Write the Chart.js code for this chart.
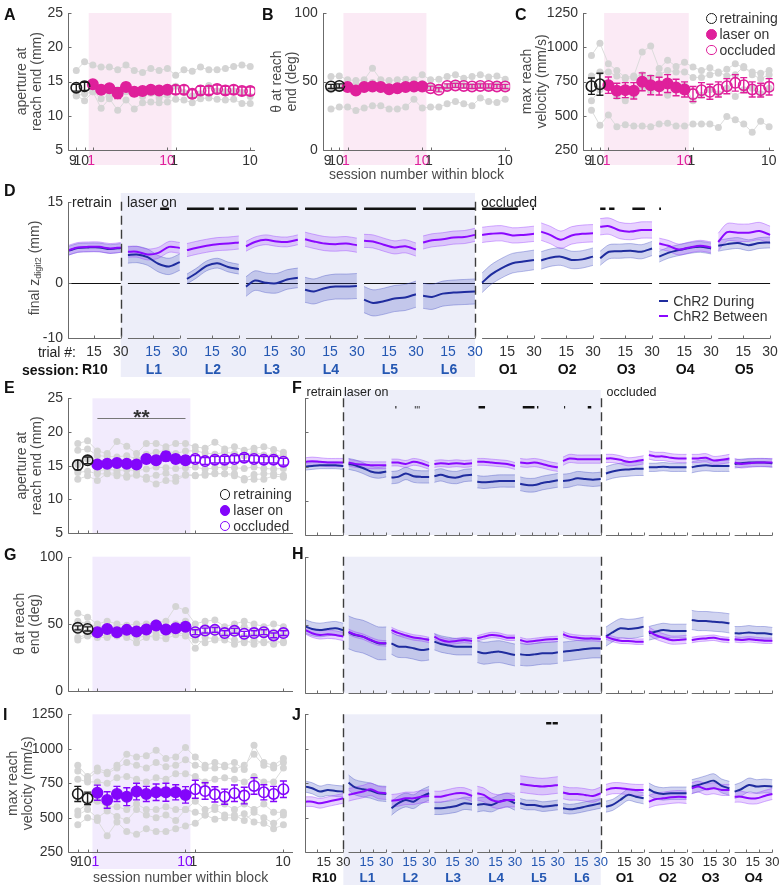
<!DOCTYPE html>
<html><head><meta charset="utf-8"><title>Figure</title>
<script src="https://cdn.jsdelivr.net/npm/chart.js@4.4.1/dist/chart.umd.min.js"></script>
<style>
html,body{margin:0;padding:0;background:#fff;}
body{width:781px;height:888px;position:relative;overflow:hidden;}
canvas{position:absolute;}
</style></head><body>
<script>
// ===================== DATA =====================
// top-row / left-column x categories: retraining 9,10 | laser on 1..10 | occluded 1..10
const blockSessionLabels = ['9', '10', '1', '10', '1', '10'];
const blockTickIndex = [0, 1, 2, 11, 12, 21];

// Panel A: aperture at reach end (mm)
const aRetrain = [14.1, 14.3], aRetrainErr = [0.5, 0.6];
const aLaser = [14.6, 13.8, 14.0, 13.3, 14.2, 13.5, 13.6, 13.8, 13.7, 13.8];
const aLaserErr = [0.5, 0.6, 0.5, 0.8, 0.6, 0.6, 0.5, 0.5, 0.5, 0.5];
const aOccl = [13.8, 13.8, 13.2, 13.7, 13.7, 13.9, 13.7, 13.8, 13.6, 13.6];
const aOcclErr = [0.6, 0.6, 0.6, 0.6, 0.6, 0.6, 0.6, 0.6, 0.6, 0.6];
const aAnimals = [
  [16.6,17.9,17.4,17.1,17.1,16.7,17.4,16.6,16.3,16.9,16.6,16.9,15.9,16.7,16.5,17.1,16.7,16.7,16.9,17.2,17.4,17.2],
  [12.9,13.2,13.5,12.5,13.0,13.8,13.5,13.2,12.8,13.3,12.6,13.0,14.3,13.4,12.9,13.2,14.4,13.6,13.5,13.6,13.4,12.8],
  [13.0,12.2,13.5,11.1,12.5,10.8,12.3,11.0,11.9,12.0,11.9,12.0,12.4,12.3,11.9,12.5,12.6,12.4,12.3,12.4,11.8,11.8]];

// Panel B: theta at reach end (deg)
const bRetrain = [46.4, 46.8], bRetrainErr = [1.5, 1.5];
const bLaser = [45.9, 43.4, 45.9, 46.4, 45.9, 44.4, 45.1, 45.9, 46.4, 46.4];
const bLaserErr = [1.5, 1.5, 1.5, 1.5, 1.5, 1.5, 1.5, 1.5, 1.5, 1.5];
const bOccl = [45.1, 43.9, 46.8, 47.1, 46.8, 46.4, 46.8, 46.8, 46.4, 46.4];
const bOcclErr = [1.5, 1.5, 1.5, 1.5, 1.5, 1.5, 1.5, 1.5, 1.5, 1.5];
const bAnimals = [
  [53.6,54.1,51.2,50.7,51.2,59.7,51.2,50.7,51.2,51.7,51.2,54.9,51.2,51.7,53.6,54.9,52.4,53.6,54.9,53.2,54.1,51.7],
  [44.0,45.5,46.8,47.6,45.5,49.3,46.5,44.9,47.2,46.0,48.0,48.5,46.8,45.1,46.0,48.0,47.0,46.5,47.0,46.0,48.0,46.0],
  [29.9,31.3,31.3,28.9,30.6,32.3,32.3,29.9,29.9,31.3,37.1,30.6,31.3,31.3,33.7,35.4,33.7,32.3,37.9,35.4,34.7,37.1]];

// Panel C: max reach velocity (mm/s)
const cRetrain = [716, 730], cRetrainErr = [60, 80];
const cLaser = [723, 682, 687, 682, 748, 723, 716, 735, 706, 692];
const cLaserErr = [60, 55, 55, 60, 65, 70, 65, 65, 60, 55];
const cOccl = [658, 687, 675, 692, 716, 740, 723, 692, 687, 711];
const cOcclErr = [55, 55, 55, 55, 55, 60, 55, 55, 50, 60];
const cAnimals = [
  [940,1030,880,830,780,790,965,1010,845,905,860,890,855,830,850,810,840,880,850,820,810,830],
  [790,820,820,790,770,780,800,780,800,830,820,820,780,780,800,820,790,800,860,800,770,800],
  [610,690,720,640,610,650,700,680,700,650,690,720,610,650,690,660,700,640,690,700,660,700],
  [540,430,505,420,435,425,425,420,440,445,425,425,440,440,440,415,495,470,440,380,460,420]];

// Panel E: aperture (mm)
const eRetrain = [15.1, 15.8], eRetrainErr = [0.7, 0.5];
const eLaser = [15.2, 15.3, 15.4, 15.3, 15.2, 16.0, 15.8, 16.4, 16.0, 15.8];
const eLaserErr = [0.5, 0.5, 0.5, 0.5, 0.5, 0.6, 0.6, 0.7, 0.6, 0.6];
const eOccl = [16.0, 15.7, 15.9, 15.9, 16.0, 16.2, 16.0, 15.9, 15.9, 15.6];
const eOcclErr = [0.5, 0.5, 0.5, 0.5, 0.5, 0.5, 0.5, 0.5, 0.5, 0.5];
const eAnimals = [
  [18.3,18.7,17.2,16.8,18.6,17.9,16.8,18.3,18.3,17.8,18.3,18.3,17.8,17.6,18.5,17.5,17.8,17.3,17.6,17.8,17.4,17.0],
  [17.3,17.5,16.5,16.4,16.3,16.5,16.0,16.7,17.0,17.3,16.8,17.2,17.2,16.9,16.7,17.0,16.8,16.5,17.0,16.6,16.6,16.5],
  [15.2,16.0,14.2,14.5,14.3,14.4,14.3,14.5,14.8,14.7,14.6,14.7,14.8,14.5,14.7,14.8,14.7,14.6,14.8,14.6,14.5,14.6],
  [14.0,14.2,13.8,13.8,13.5,13.5,13.7,13.0,12.3,12.8,12.7,13.7,13.6,13.6,13.8,13.8,13.5,13.1,13.7,13.8,13.8,13.6],
  [13.0,13.5,12.8,13.9,13.9,13.3,13.6,13.3,13.6,13.9,13.3,13.6,13.5,13.8,13.9,13.8,13.8,12.9,13.0,13.0,13.5,13.3]];
const eSignif = {from: 2, to: 11, level: 22.1, text: '**'};

// Panel G: theta (deg)
const gRetrain = [47.1, 46.3], gRetrainErr = [1.5, 1.5];
const gLaser = [43.9, 46.3, 43.9, 45.6, 44.4, 45.9, 48.8, 45.9, 46.8, 48.0];
const gLaserErr = [1.8, 1.8, 1.8, 1.8, 1.8, 1.8, 1.8, 1.8, 1.8, 1.8];
const gOccl = [43.9, 45.1, 45.6, 43.2, 44.9, 42.7, 43.2, 43.9, 41.5, 43.2];
const gOcclErr = [1.8, 1.8, 1.8, 1.8, 1.8, 1.8, 1.8, 1.8, 1.8, 1.8];
const gAnimals = [
  [58,55,50,52,50,49,50,50,51,52,63,60,50,52,53,48,50,52,50,48,50,48],
  [52,50,48,47,48,46,47,48,48,47,50,52,45,48,47,47,46,48,46,45,44,46],
  [45,44,43,44,42,45,44,42,45,46,45,46,40,43,44,42,43,41,42,42,41,42],
  [40,42,42,41,42,40,36,40,42,41,44,42,32,40,39,40,38,36,38,36,38,36],
  [38,41,40,40,41,42,40,41,40,39,42,41,38,36,38,38,35,38,35,37,35,37]];

// Panel I: velocity (mm/s)
const iRetrain = [673, 641], iRetrainErr = [55, 45];
const iLaser = [682, 629, 673, 653, 690, 673, 685, 685, 685, 666];
const iLaserErr = [55, 60, 55, 65, 60, 55, 60, 65, 55, 60];
const iOccl = [707, 694, 670, 653, 678, 661, 731, 685, 673, 707];
const iOcclErr = [65, 60, 55, 55, 60, 60, 60, 55, 55, 60];
const iAnimals = [
  [880,800,860,830,880,960,940,950,990,930,940,1010,940,880,900,880,900,850,1025,900,880,930],
  [840,780,840,820,860,900,880,860,900,870,880,920,880,860,860,870,850,880,960,880,860,900],
  [780,760,760,750,790,800,780,760,790,780,820,820,800,760,780,790,780,760,800,760,760,860],
  [550,600,620,580,580,560,600,560,560,580,560,560,620,560,580,600,560,600,560,600,540,540],
  [520,560,500,550,510,480,560,520,500,520,480,560,540,520,560,520,520,480,540,500,460,520],
  [450,500,480,370,470,400,380,420,400,400,420,440,460,520,490,500,500,530,470,460,420,450]];

// Trial-resolved panels: values at these trial numbers in every session
const trialSamples = [1, 6, 12, 18, 24, 30];
const trialTickLabels = ['15', '30'];
const sessionsD = ['R10','L1','L2','L3','L4','L5','L6','O1','O2','O3','O4','O5'];
const sessionsFHJ = ['R10','L1','L2','L3','L4','L5','L6','O1','O2','O3','O4'];

// Panel D: final z digit2 (mm)
const dDuring = [
  [6.0,6.5,6.6,6.6,6.3,6.5],[5.2,5.3,4.8,3.6,3.1,3.9],[0.8,1.8,3.2,3.7,3.0,2.6],
  [-0.6,0.5,0.1,0.0,0.7,1.0],[-1.2,-1.5,-0.9,-0.6,-0.6,-0.5],[-3.0,-3.6,-3.3,-2.8,-2.6,-2.0],
  [-2.3,-2.5,-1.9,-1.7,-1.6,-1.5],[0.1,1.6,2.8,3.7,4.0,4.3],[4.2,4.7,4.9,4.3,4.4,4.9],
  [4.6,5.8,5.9,6.0,5.8,6.4],[4.9,5.6,6.1,6.5,6.7,6.4],[6.9,7.2,7.4,7.0,7.4,7.5]];
const dBetween = [
  [6.1,6.6,6.7,6.7,6.4,6.6],[5.8,5.8,5.3,5.6,6.7,6.5],[6.1,6.5,6.9,7.2,7.3,7.5],
  [6.8,7.6,8.0,7.7,7.6,8.0],[8.1,7.7,7.3,7.2,7.3,7.0],[7.8,7.7,7.1,6.6,6.8,6.2],
  [7.5,7.9,8.1,8.4,8.5,8.9],[8.9,9.1,9.2,8.8,8.9,9.1],[9.5,8.9,8.0,8.8,9.1,9.2],
  [10.4,10.5,9.7,9.5,9.8,9.8],[7.3,6.9,6.2,6.6,6.9,6.6],[7.6,9.4,9.3,9.3,9.6,8.9]];
const dSemDuring = [0.8,1.5,0.9,1.8,2.3,2.4,2.3,1.8,1.6,1.3,1.0,1.0];
const dSemBetween = [0.9,1.0,1.2,0.9,1.3,1.2,1.2,1.4,1.6,1.5,1.0,1.6];
const dSignif = [['L1',19,24],['L2',1,16],['L2',19,22],['L2',24,30],['L3',1,30],['L4',1,30],
  ['L5',1,30],['L6',1,30],['O1',1,21],['O1',29,30],['O3',1,4],['O3',6,9],['O3',19,26],['O4',1,2]];

// Panel F: aperture (mm)
const fDuring = [
  [15.0,15.1,15.2,15.2,15.2,15.1],[15.4,15.2,14.8,14.3,14.1,14.3],[13.4,13.5,14.0,13.6,13.5,13.5],
  [13.6,13.8,13.5,13.4,13.7,13.8],[12.8,12.7,12.8,12.9,12.9,12.9],[12.5,12.3,12.3,12.6,12.8,13.0],
  [12.9,13.0,13.3,13.2,13.1,13.2],[14.0,14.3,14.5,14.6,14.7,14.7],[14.9,14.9,15.0,14.9,14.9,14.9],
  [14.9,15.1,15.2,15.1,15.1,15.1],[15.4,15.5,15.6,15.6,15.6,15.5]];
const fBetween = [
  [15.7,15.8,15.7,15.6,15.6,15.6],[15.6,15.4,15.3,15.2,15.2,15.2],[15.6,15.6,15.4,15.7,15.5,15.1],
  [15.4,15.5,15.4,15.5,15.4,15.5],[15.7,15.7,15.6,15.5,15.4,15.1],[15.6,15.5,15.6,15.4,15.1,14.9],
  [15.8,16.2,16.1,16.1,16.1,16.1],[16.2,16.2,16.0,15.7,15.8,16.0],[16.7,16.5,16.5,16.3,16.2,16.2],
  [16.2,16.2,16.3,15.9,16.0,16.2],[15.6,15.4,15.5,15.6,15.6,15.6]];
const fSemDuring = [0.5,0.8,0.9,0.9,0.9,1.0,1.0,1.0,0.6,0.8,0.6];
const fSemBetween = [0.6,0.5,0.5,0.5,0.5,0.6,0.6,0.6,0.6,0.6,0.6];
const fSignif = [['L2',4,4.8],['L2',19,19.6],['L2',20.5,21.1],['L2',22,22.6],['L4',2,7],
  ['L5',3,12],['L5',14,15],['L6',1.8,2.6],['L6',20,22.7]];

// Panel H: theta (deg)
const hDuring = [
  [48.8,47.1,46.3,47.1,47.6,46.3],[44.6,42.7,41.5,39.0,36.6,36.6],[36.6,34.3,34.1,33.0,31.7,32.4],
  [37.8,36.1,35.0,34.1,34.1,34.1],[30.5,29.3,30.0,30.5,29.3,28.0],[28.5,28.0,28.5,29.3,29.3,30.0],
  [30.5,31.0,31.7,32.4,32.9,32.9],[41.5,44.6,47.6,47.1,47.6,48.8],[43.9,45.1,46.3,45.6,45.6,45.6],
  [53.7,52.9,52.9,52.4,52.0,51.2],[43.9,43.9,44.6,43.9,43.9,43.2]];
const hBetween = [
  [46.3,44.0,42.7,43.2,42.7,41.5],[45.0,43.0,41.5,39.0,37.0,36.5],[46.3,44.2,42.4,40.9,40.2,39.0],
  [41.5,39.0,37.8,38.3,39.0,38.3],[40.2,41.5,42.7,42.2,40.7,40.7],[39.0,37.8,38.3,39.0,39.5,39.8],
  [43.2,41.5,40.7,40.2,40.2,39.8],[41.5,39.8,38.5,38.3,37.8,37.8],[45.6,42.7,40.7,39.0,39.0,39.5],
  [39.0,39.8,40.2,40.7,39.5,39.0],[39.5,39.0,39.5,39.0,38.5,38.5]];
const hSemDuring = [5,12,8,6,8,8,7,7,5,7,5];
const hSemBetween = [3,2,2,2,2,2,2,2,3,2,2];

// Panel J: velocity (mm/s)
const jDuring = [
  [726,714,690,702,695,690],[755,721,707,697,678,673],[569,605,629,617,653,678],
  [569,569,576,586,605,600],[593,600,593,617,629,605],[605,593,593,581,586,593],
  [569,562,569,581,593,605],[581,593,629,666,653,641],[707,683,673,678,678,678],
  [726,738,755,769,731,714],[690,707,738,726,731,726]];
const jBetween = [
  [617,617,605,617,629,641],[666,678,690,707,683,678],[624,629,641,641,653,658],
  [653,653,666,678,678,658],[678,666,629,617,629,629],[745,738,731,726,731,738],
  [683,673,673,666,658,678],[702,714,714,707,702,702],[617,634,641,649,653,649],
  [714,726,707,714,702,702],[653,653,641,641,658,673]];
const jSemDuring = [40,55,50,45,50,35,35,40,45,50,50];
const jSemBetween = [35,45,45,40,50,60,45,40,45,40,40];
const jSignif = [['L5',21,25],['L5',26,30]];

// ===================== STYLE / HELPERS =====================
const FONT = "'Liberation Sans', Arial, Helvetica, sans-serif";
const TXT = '#333333', TITLE = '#4a4a4a', AXIS = '#6b6b6b';
const PINK = '#df209b', VIOLET = '#8306fb';
const DURING = '#1f2c9e', BETWEEN = '#8a08ff', L_BLUE = '#2457b2';
const GRAY_PT = '#d4d4d4', GRAY_LN = '#dcdcdc';
const SHADE_PINK = '#fbeaf5', SHADE_VIOLET = '#f2ebfd', SHADE_LAV = '#edeef9';
const PERIOD = 33;                       // trial units between session starts
const SHADE_FROM = 1.5, SHADE_TO = 11.5; // laser block in category units
const TOP_LABEL_POS = [-0.4, 0.6, 1.8, 10.95, 11.8, 20.97];

function mkCanvas(b) {
  const c = document.createElement('canvas');
  c.width = b.w; c.height = b.h;
  c.style.left = b.l + 'px'; c.style.top = b.t + 'px';
  c.style.width = b.w + 'px'; c.style.height = b.h + 'px';
  document.body.appendChild(c);
  return c;
}
function fixSize(sz) {
  return s => {
    if (s.isHorizontal()) s.height = sz; else s.width = sz;
    s.paddingTop = 0; s.paddingBottom = 0; s.paddingLeft = 0; s.paddingRight = 0;
  };
}
const noGrid = () => ({display: false, drawTicks: false});

function addText(html, x, y, css, anchor) {
  const d = document.createElement('div');
  d.innerHTML = html;
  d.style.cssText = 'position:absolute;white-space:nowrap;line-height:1;font-family:' + FONT + ';' + (css || '');
  d.style.left = x + 'px'; d.style.top = y + 'px';
  const tx = anchor === 'right' ? '-100%' : anchor === 'center' ? '-50%' : '0';
  d.style.transform = 'translate(' + tx + ',-50%)';
  document.body.appendChild(d);
  return d;
}
function addCircle(cx, cy, col, filled) {
  const d = document.createElement('div');
  const r = 5.4;
  d.style.cssText = 'position:absolute;box-sizing:border-box;border-radius:50%;border:1.7px solid ' + col +
    ';background:' + (filled ? col : 'transparent') + ';width:' + (2*r) + 'px;height:' + (2*r) + 'px;left:' + (cx - r) + 'px;top:' + (cy - r) + 'px';
  document.body.appendChild(d);
}
function addDash(x0, x1, y, col) {
  const d = document.createElement('div');
  d.style.cssText = 'position:absolute;height:2.6px;background:' + col + ';left:' + x0 + 'px;width:' + (x1 - x0) + 'px;top:' + (y - 1.3) + 'px';
  document.body.appendChild(d);
}

// ---------- session-block panels (A,B,C,E,G,I) ----------
function topPanel(p) {
  const c = mkCanvas(p.box);
  const yW = p.area.l - p.box.l - p.padL;
  const xH = p.box.t + p.box.h - p.area.b;
  const ds = [];
  p.gray.forEach(g => ds.push({
    data: g.map((v, i) => ({x: i, y: v})), borderColor: GRAY_LN, borderWidth: 1,
    pointRadius: 3.5, pointBackgroundColor: GRAY_PT, pointBorderWidth: 0, order: 10, tension: 0}));
  const groups = [
    {v: p.retrain, e: p.retrainErr, off: 0, col: '#1c1c1c', fill: false},
    {v: p.laser, e: p.laserErr, off: 2, col: p.accent, fill: true},
    {v: p.occl, e: p.occlErr, off: 12, col: p.accent, fill: false}];
  groups.forEach(g => ds.push({
    data: g.v.map((v, i) => ({x: i + g.off, y: v})), showLine: false, pointRadius: 5.2,
    pointBorderWidth: 1.6, pointBorderColor: g.col,
    pointBackgroundColor: g.fill ? g.col : 'rgba(255,255,255,0)', order: 1}));
  const plugin = {
    id: 'deco',
    beforeDraw(ch) {
      const {ctx, chartArea: a, scales: {x}} = ch;
      const x0 = x.getPixelForValue(SHADE_FROM), x1 = x.getPixelForValue(SHADE_TO);
      ctx.save(); ctx.fillStyle = p.shade;
      ctx.fillRect(x0, a.top, x1 - x0, a.bottom - a.top + p.shadeExt);
      ctx.restore();
    },
    afterDatasetsDraw(ch) {
      const {ctx, scales: {x, y}} = ch;
      ctx.save(); ctx.lineWidth = 1.4;
      groups.forEach(g => {
        ctx.strokeStyle = g.col; ctx.beginPath();
        g.v.forEach((v, i) => {
          const px = x.getPixelForValue(i + g.off);
          const y0 = y.getPixelForValue(v - g.e[i]), y1 = y.getPixelForValue(v + g.e[i]);
          ctx.moveTo(px, y0); ctx.lineTo(px, y1);
          ctx.moveTo(px - 3.5, y0); ctx.lineTo(px + 3.5, y0);
          ctx.moveTo(px - 3.5, y1); ctx.lineTo(px + 3.5, y1);
        });
        ctx.stroke();
      });
      ctx.restore();
      if (p.signif) {
        const s = p.signif;
        const xa = x.getPixelForValue(s.from), xb = x.getPixelForValue(s.to);
        const yy = Math.round(y.getPixelForValue(s.level)) + 0.5;
        ctx.save(); ctx.strokeStyle = '#777'; ctx.lineWidth = 1;
        ctx.beginPath(); ctx.moveTo(xa, yy); ctx.lineTo(xb, yy); ctx.stroke();
        ctx.fillStyle = '#333'; ctx.font = 'bold 21px ' + FONT; ctx.textAlign = 'center'; ctx.textBaseline = 'alphabetic';
        ctx.fillText(s.text, (xa + xb) / 2, yy + 5);
        ctx.restore();
      }
    },
    afterDraw(ch) {
      const {ctx, chartArea: a, scales: {x, y}} = ch;
      ctx.save(); ctx.strokeStyle = AXIS; ctx.lineWidth = 1; ctx.beginPath();
      const L = Math.round(a.left) + 0.5, B = Math.round(a.bottom) + 0.5;
      ctx.moveTo(L, Math.round(a.top)); ctx.lineTo(L, B); ctx.lineTo(Math.round(a.right), B);
      p.y.ticks.forEach(v => { const py = Math.round(y.getPixelForValue(v)) + 0.5; ctx.moveTo(L, py); ctx.lineTo(L + 3, py); });
      blockTickIndex.forEach(v => { const px = Math.round(x.getPixelForValue(v)) + 0.5; ctx.moveTo(px, B); ctx.lineTo(px, B - 3); });
      ctx.stroke(); ctx.restore();
    }
  };
  new Chart(c, {
    type: 'line',
    data: {datasets: ds},
    options: {
      responsive: false, animation: false, events: [], devicePixelRatio: 1,
      layout: {padding: {left: p.padL, right: p.box.l + p.box.w - p.area.r, top: p.area.t - p.box.t, bottom: 0}},
      plugins: {legend: {display: false}, tooltip: {enabled: false}},
      scales: {
        x: {
          type: 'linear', bounds: 'data', min: -1, max: p.xMax,
          grid: noGrid(), border: {display: false},
          afterBuildTicks: s => { s.ticks = TOP_LABEL_POS.map(v => ({value: v})); },
          afterFit: fixSize(xH),
          ticks: {display: p.xLabels, autoSkip: false, maxRotation: 0, minRotation: 0, padding: p.xPad || 0,
            callback: (v, i) => blockSessionLabels[i],
            color: cx => (cx.index === 2 || cx.index === 3) ? p.accent : TXT,
            font: {family: FONT, size: 14}},
          title: {display: !!p.xTitle, text: p.xTitle || '', color: TITLE,
            font: {family: FONT, size: 14, lineHeight: 1.1}, padding: {top: 0, bottom: 2.3}}
        },
        y: {
          type: 'linear', bounds: 'data', min: p.y.min, max: p.y.max,
          grid: noGrid(), border: {display: false},
          afterBuildTicks: s => { s.ticks = p.y.ticks.map(v => ({value: v})); },
          afterFit: fixSize(yW),
          ticks: {autoSkip: false, padding: 5, color: TXT, font: {family: FONT, size: 14}, callback: v => String(v)},
          title: {display: true, text: p.title, color: TITLE,
            font: {family: FONT, size: 14, lineHeight: 1.07}, padding: {top: 0, bottom: 0}}
        }
      }
    },
    plugins: [plugin]
  });
}

// ---------- trial-resolved panels (D,F,H,J) ----------
function trialPanel(p) {
  const c = mkCanvas(p.box);
  const S = p.sessions;
  const xMax = (S.length - 1) * PERIOD + 30.5;
  const yW = p.yShow ? p.yW : 0;
  const xH1 = p.xShow ? p.xH1 : 0, xH2 = p.xShow ? p.xH2 : 0;
  const series = [
    {m: p.during, s: p.semD, line: DURING, band: 'rgba(62,74,192,0.24)', edge: 'rgba(62,74,192,0.45)', bo: 6, lo: 2},
    {m: p.between, s: p.semB, line: BETWEEN, band: 'rgba(168,80,255,0.26)', edge: 'rgba(150,60,255,0.5)', bo: 5, lo: 1}];
  const ds = [];
  series.forEach(se => S.forEach((nm, k) => {
    const pts = sign => trialSamples.map((t, j) => ({x: k * PERIOD + t, y: se.m[k][j] + sign * se.s[k]}));
    ds.push({data: pts(1), borderColor: se.edge, borderWidth: 0.8, pointRadius: 0, fill: false, order: se.bo});
    ds.push({data: pts(-1), borderColor: se.edge, borderWidth: 0.8, pointRadius: 0, fill: '-1', backgroundColor: se.band, order: se.bo});
  }));
  series.forEach(se => S.forEach((nm, k) => {
    ds.push({data: trialSamples.map((t, j) => ({x: k * PERIOD + t, y: se.m[k][j]})),
      borderColor: se.line, borderWidth: 2, pointRadius: 0, fill: false, order: se.lo});
  }));
  const kR = S.indexOf('R10'), kL = S.indexOf('L6');
  const plugin = {
    id: 'tdeco',
    beforeDraw(ch) {
      const {ctx, chartArea: a, scales: {x}} = ch;
      const x0 = x.getPixelForValue(kR * PERIOD + 30), x1 = x.getPixelForValue(kL * PERIOD + 30);
      ctx.save(); ctx.fillStyle = SHADE_LAV;
      ctx.fillRect(x0, a.top - p.shadeTop, x1 - x0, a.bottom - a.top + p.shadeTop + p.shadeBottom);
      ctx.restore();
    },
    beforeDatasetsDraw(ch) {
      if (!p.zero) return;
      const {ctx, chartArea: a, scales: {x, y}} = ch;
      const yy = Math.round(y.getPixelForValue(0)) + 0.5;
      ctx.save(); ctx.strokeStyle = '#111'; ctx.lineWidth = 1; ctx.beginPath();
      S.forEach((nm, k) => {
        ctx.moveTo(k === 0 ? a.left : x.getPixelForValue(k * PERIOD + 1), yy);
        ctx.lineTo(x.getPixelForValue(k * PERIOD + 30), yy);
      });
      ctx.stroke(); ctx.restore();
    },
    afterDatasetsDraw(ch) {
      const {ctx, chartArea: a, scales: {x, y}} = ch;
      ctx.save(); ctx.strokeStyle = '#3d3d3d'; ctx.lineWidth = 1.4; ctx.setLineDash([9, 5]);
      ctx.beginPath();
      [kR, kL].forEach(k => { const px = Math.round(x.getPixelForValue(k * PERIOD + 30)) + 0.5; ctx.moveTo(px, a.top); ctx.lineTo(px, a.bottom); });
      ctx.stroke(); ctx.setLineDash([]);
      ctx.strokeStyle = '#111'; ctx.lineWidth = 2.6; ctx.beginPath();
      (p.sig || []).forEach(([nm, t0, t1]) => {
        const k = S.indexOf(nm); const yy = y.getPixelForValue(p.sigY);
        ctx.moveTo(x.getPixelForValue(k * PERIOD + t0), yy); ctx.lineTo(x.getPixelForValue(k * PERIOD + t1), yy);
      });
      ctx.stroke(); ctx.restore();
    },
    afterDraw(ch) {
      const {ctx, chartArea: a, scales: {x, y}} = ch;
      ctx.save(); ctx.strokeStyle = AXIS; ctx.lineWidth = 1; ctx.beginPath();
      const L = Math.round(a.left) + 0.5, B = Math.round(a.bottom) + 0.5;
      ctx.moveTo(L, Math.round(a.top)); ctx.lineTo(L, B);
      p.yTicks.forEach(v => { const py = Math.round(y.getPixelForValue(v)) + 0.5; ctx.moveTo(L, py); ctx.lineTo(L + 3, py); });
      S.forEach((nm, k) => {
        ctx.moveTo(k === 0 ? L : x.getPixelForValue(k * PERIOD + 1), B);
        ctx.lineTo(x.getPixelForValue(k * PERIOD + 30), B);
        p.tickMarks.forEach(t => { const px = Math.round(x.getPixelForValue(k * PERIOD + t)) + 0.5; ctx.moveTo(px, B); ctx.lineTo(px, B - 3); });
      });
      ctx.stroke(); ctx.restore();
    }
  };
  const tickCol = nm => nm[0] === 'L' ? L_BLUE : TXT;
  const sessCol = nm => nm[0] === 'L' ? L_BLUE : '#111';
  new Chart(c, {
    type: 'line',
    data: {datasets: ds},
    options: {
      responsive: false, animation: false, events: [], devicePixelRatio: 1,
      layout: {padding: {left: p.area.l - p.box.l - yW, right: p.box.l + p.box.w - p.area.r,
        top: p.area.t - p.box.t, bottom: p.box.t + p.box.h - p.area.b - xH1 - xH2}},
      elements: {line: {tension: 0.3}},
      plugins: {legend: {display: false}, tooltip: {enabled: false}},
      scales: {
        x: {
          type: 'linear', bounds: 'data', min: 0.5, max: xMax, display: p.xShow, weight: 0,
          grid: noGrid(), border: {display: false}, afterFit: fixSize(xH1),
          afterBuildTicks: s => { const t = []; S.forEach((nm, k) => trialTickLabels.forEach(l => t.push({value: k * PERIOD + Number(l)}))); s.ticks = t; },
          ticks: {autoSkip: false, maxRotation: 0, minRotation: 0, padding: p.xPad1 || 0,
            callback: (v, i) => trialTickLabels[i % trialTickLabels.length],
            color: cx => tickCol(S[Math.floor(cx.index / trialTickLabels.length)]),
            font: {family: FONT, size: p.tickFont || 14}}
        },
        xs: {
          type: 'linear', axis: 'x', position: 'bottom', bounds: 'data', min: 0.5, max: xMax, display: p.xShow, weight: 1,
          grid: noGrid(), border: {display: false}, afterFit: fixSize(xH2),
          afterBuildTicks: s => { s.ticks = S.map((nm, k) => ({value: k * PERIOD + 15.5})); },
          ticks: {autoSkip: false, maxRotation: 0, minRotation: 0, padding: p.xPad2 || 0,
            callback: (v, i) => S[i], color: cx => sessCol(S[cx.index]),
            font: {family: FONT, size: p.sessFont || 14, weight: 'bold'}}
        },
        y: {
          type: 'linear', bounds: 'data', min: p.y.min, max: p.y.max, display: p.yShow,
          grid: noGrid(), border: {display: false}, afterFit: fixSize(yW),
          afterBuildTicks: s => { s.ticks = (p.yLabelTicks || []).map(v => ({value: v})); },
          ticks: {autoSkip: false, padding: 5, color: TXT, font: {family: FONT, size: 14}, callback: v => String(v)}
        }
      }
    },
    plugins: [plugin]
  });
}

// ===================== BUILD =====================
topPanel({box: {l: 0, t: 0, w: 262, h: 185}, area: {l: 68, r: 258, t: 13, b: 150}, padL: 14.5,
  y: {min: 5, max: 25, ticks: [5, 10, 15, 20, 25]}, xMax: 21.6, title: ['aperture at', 'reach end (mm)'],
  xLabels: true, xPad: 2.6, accent: PINK, shade: SHADE_PINK, shadeExt: 15,
  gray: aAnimals, retrain: aRetrain, retrainErr: aRetrainErr, laser: aLaser, laserErr: aLaserErr, occl: aOccl, occlErr: aOcclErr});
topPanel({box: {l: 262, t: 0, w: 255, h: 185}, area: {l: 322.7, r: 515, t: 13, b: 150}, padL: 7.2,
  y: {min: 0, max: 100, ticks: [0, 50, 100]}, xMax: 21.6, title: ['\u03b8 at reach', 'end (deg)'],
  xLabels: true, xPad: 2.6, xTitle: 'session number within block', accent: PINK, shade: SHADE_PINK, shadeExt: 15,
  gray: bAnimals, retrain: bRetrain, retrainErr: bRetrainErr, laser: bLaser, laserErr: bLaserErr, occl: bOccl, occlErr: bOcclErr});
topPanel({box: {l: 517, t: 0, w: 264, h: 185}, area: {l: 583, r: 778, t: 13, b: 150}, padL: 2.2,
  y: {min: 250, max: 1250, ticks: [250, 500, 750, 1000, 1250]}, xMax: 21.6, title: ['max reach', 'velocity (mm/s)'],
  xLabels: true, xPad: 2.6, accent: PINK, shade: SHADE_PINK, shadeExt: 15,
  gray: cAnimals, retrain: cRetrain, retrainErr: cRetrainErr, laser: cLaser, laserErr: cLaserErr, occl: cOccl, occlErr: cOcclErr});
topPanel({box: {l: 0, t: 380, w: 300, h: 160}, area: {l: 68, r: 296.7, t: 398.3, b: 535}, padL: 14.5,
  y: {min: 5, max: 25, ticks: [5, 10, 15, 20, 25]}, xMax: 22, title: ['aperture at', 'reach end (mm)'],
  xLabels: false, accent: VIOLET, shade: SHADE_VIOLET, shadeExt: 0, signif: eSignif,
  gray: eAnimals, retrain: eRetrain, retrainErr: eRetrainErr, laser: eLaser, laserErr: eLaserErr, occl: eOccl, occlErr: eOcclErr});
topPanel({box: {l: 0, t: 545, w: 300, h: 153}, area: {l: 68, r: 296.7, t: 556.7, b: 693.3}, padL: 12.5,
  y: {min: 0, max: 100, ticks: [0, 50, 100]}, xMax: 22, title: ['\u03b8 at reach', 'end (deg)'],
  xLabels: false, accent: VIOLET, shade: SHADE_VIOLET, shadeExt: 0,
  gray: gAnimals, retrain: gRetrain, retrainErr: gRetrainErr, laser: gLaser, laserErr: gLaserErr, occl: gOccl, occlErr: gOcclErr});
topPanel({box: {l: 0, t: 700, w: 300, h: 188}, area: {l: 68, r: 296.7, t: 714.3, b: 852.3}, padL: 5.8,
  y: {min: 250, max: 1250, ticks: [250, 500, 750, 1000, 1250]}, xMax: 22, title: ['max reach', 'velocity (mm/s)'],
  xLabels: true, xPad: 1.6, xTitle: 'session number within block', accent: VIOLET, shade: SHADE_VIOLET, shadeExt: 16.7,
  gray: iAnimals, retrain: iRetrain, retrainErr: iRetrainErr, laser: iLaser, laserErr: iLaserErr, occl: iOccl, occlErr: iOcclErr});

trialPanel({box: {l: 0, t: 180, w: 781, h: 200}, area: {l: 68, r: 771, t: 201.7, b: 337.7},
  sessions: sessionsD, during: dDuring, between: dBetween, semD: dSemDuring, semB: dSemBetween,
  y: {min: -10, max: 15}, yTicks: [-10, 0, 15], yLabelTicks: [-10, 0, 15], yShow: true, yW: 30,
  xShow: true, xH1: 24, xH2: 18, xPad1: 5.6, xPad2: 0, tickFont: 14, sessFont: 14, tickMarks: [15, 30],
  zero: true, sig: dSignif, sigY: 13.7, shadeTop: 8.7, shadeBottom: 39.3});
trialPanel({box: {l: 290, t: 380, w: 491, h: 160}, area: {l: 305, r: 773, t: 398.3, b: 535},
  sessions: sessionsFHJ, during: fDuring, between: fBetween, semD: fSemDuring, semB: fSemBetween,
  y: {min: 5, max: 25}, yTicks: [5, 10, 15, 20, 25], yShow: false, xShow: false, tickMarks: [10, 20, 30],
  sig: fSignif, sigY: 23.7, shadeTop: 8.3, shadeBottom: 0});
trialPanel({box: {l: 290, t: 545, w: 491, h: 153}, area: {l: 305, r: 773, t: 556.7, b: 693.3},
  sessions: sessionsFHJ, during: hDuring, between: hBetween, semD: hSemDuring, semB: hSemBetween,
  y: {min: 0, max: 100}, yTicks: [0, 50, 100], yShow: false, xShow: false, tickMarks: [10, 20, 30],
  shadeTop: 0, shadeBottom: 0});
trialPanel({box: {l: 290, t: 700, w: 491, h: 188}, area: {l: 305, r: 773, t: 714.3, b: 852.3},
  sessions: sessionsFHJ, during: jDuring, between: jBetween, semD: jSemDuring, semB: jSemBetween,
  y: {min: 250, max: 1250}, yTicks: [250, 500, 750, 1000, 1250], yShow: false,
  xShow: true, xH1: 17, xH2: 18.7, xPad1: 1.9, xPad2: 0.6, tickFont: 13, sessFont: 13.5, tickMarks: [10, 20, 30],
  sig: jSignif, sigY: 1185, shadeTop: 0, shadeBottom: 32.7});

// ===================== TEXT OVERLAYS =====================
const LET = 'font-weight:bold;font-size:16px;color:#111;';
[['A', 4, 14.5], ['B', 262, 15], ['C', 515, 15], ['D', 4, 191], ['E', 4, 388], ['F', 292, 388],
 ['G', 4, 555], ['H', 292, 554], ['I', 3, 715], ['J', 292, 715]].forEach(([s, x, y]) => addText(s, x, y, LET));

// legend C
[['retraining', '#1c1c1c', false], ['laser on', PINK, true], ['occluded', PINK, false]].forEach(([s, col, f], i) => {
  addCircle(711.7, 18.3 + i * 15.9, col, f);
  addText(s, 719.5, 18.3 + i * 15.9, 'font-size:14px;color:#333;');
});
// legend E
[['retraining', '#1c1c1c', false], ['laser on', VIOLET, true], ['occluded', VIOLET, false]].forEach(([s, col, f], i) => {
  addCircle(225, 494.3 + i * 15.9, col, f);
  addText(s, 233.3, 494.3 + i * 15.9, 'font-size:14px;color:#333;');
});
// legend D
[['ChR2 During', DURING], ['ChR2 Between', BETWEEN]].forEach(([s, col], i) => {
  addDash(659, 668, 301 + i * 15, col);
  addText(s, 673.3, 301 + i * 15, 'font-size:14px;color:#333;');
});
// block labels
addText('retrain', 72, 202, 'font-size:14px;color:#222;');
addText('laser on', 127, 202, 'font-size:14px;color:#222;');
addText('occluded', 481, 202, 'font-size:14px;color:#222;');
addText('retrain', 306.5, 392, 'font-size:12.5px;color:#222;');
addText('laser on', 344, 392, 'font-size:12.5px;color:#222;');
addText('occluded', 606.5, 392, 'font-size:12.5px;color:#222;');
addText('trial #:', 76, 351.7, 'font-size:14px;color:#222;', 'right');
addText('session:', 22, 370, 'font-size:14px;font-weight:bold;color:#111;');
// D y-axis title
const yt = addText('final z<sub style="font-size:9px;vertical-align:-2px">digit2</sub> (mm)', 35, 268, 'font-size:14px;color:' + TITLE + ';');
yt.style.transform = 'translate(-50%,-50%) rotate(-90deg)';
</script>
</body></html>
